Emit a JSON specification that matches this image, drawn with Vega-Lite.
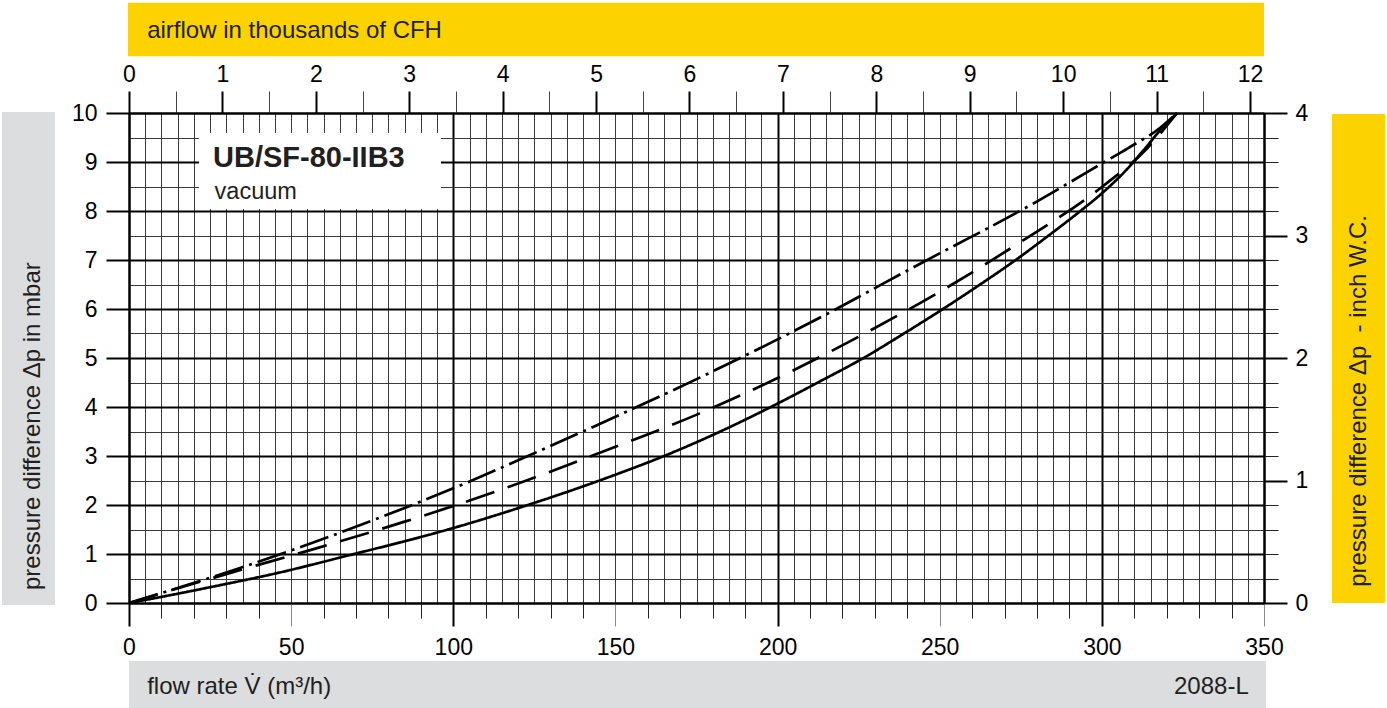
{
  "$schema": "https://vega.github.io/schema/vega-lite/v6.json",
  "width": 1135,
  "height": 490,
  "autosize": {"type": "none"},
  "padding": {"left": 129, "top": 113, "right": 123, "bottom": 105},
  "background": "white",
  "config": {
    "view": {"stroke": null},
    "axis": {"labelFont": "Liberation Sans", "labelFontSize": 23, "labelColor": "#000", "domainColor": "#000", "tickColor": "#000", "gridOpacity": 1, "labelFlush": false, "labelOverlap": false, "labelBound": false, "title": null},
    "text": {"font": "Liberation Sans", "color": "#231f20"}
  },
  "datasets": {
    "curves": [
      {"series": "A", "flow": 0, "dp": 0},
      {"series": "A", "flow": 10, "dp": 0.125},
      {"series": "A", "flow": 20, "dp": 0.255},
      {"series": "A", "flow": 30, "dp": 0.39},
      {"series": "A", "flow": 45, "dp": 0.6},
      {"series": "A", "flow": 70, "dp": 1.01},
      {"series": "A", "flow": 85, "dp": 1.26},
      {"series": "A", "flow": 100, "dp": 1.53},
      {"series": "A", "flow": 123, "dp": 2.0},
      {"series": "A", "flow": 148, "dp": 2.57},
      {"series": "A", "flow": 165, "dp": 3.0},
      {"series": "A", "flow": 183, "dp": 3.52},
      {"series": "A", "flow": 200, "dp": 4.07},
      {"series": "A", "flow": 213, "dp": 4.52},
      {"series": "A", "flow": 226.5, "dp": 5.0},
      {"series": "A", "flow": 238, "dp": 5.46},
      {"series": "A", "flow": 251, "dp": 6.0},
      {"series": "A", "flow": 262, "dp": 6.48},
      {"series": "A", "flow": 273, "dp": 6.98},
      {"series": "A", "flow": 283, "dp": 7.47},
      {"series": "A", "flow": 293, "dp": 7.98},
      {"series": "A", "flow": 300, "dp": 8.36},
      {"series": "A", "flow": 307, "dp": 8.8},
      {"series": "A", "flow": 313, "dp": 9.25},
      {"series": "A", "flow": 318, "dp": 9.65},
      {"series": "A", "flow": 323.2, "dp": 10.0},
      {"series": "B", "flow": 0, "dp": 0},
      {"series": "B", "flow": 10, "dp": 0.2},
      {"series": "B", "flow": 31, "dp": 0.61},
      {"series": "B", "flow": 58, "dp": 1.12},
      {"series": "B", "flow": 85, "dp": 1.66},
      {"series": "B", "flow": 100, "dp": 1.98},
      {"series": "B", "flow": 123, "dp": 2.51},
      {"series": "B", "flow": 145, "dp": 3.06},
      {"series": "B", "flow": 176, "dp": 3.87},
      {"series": "B", "flow": 200, "dp": 4.59},
      {"series": "B", "flow": 226, "dp": 5.47},
      {"series": "B", "flow": 251, "dp": 6.39},
      {"series": "B", "flow": 275, "dp": 7.37},
      {"series": "B", "flow": 300, "dp": 8.49},
      {"series": "B", "flow": 314, "dp": 9.28},
      {"series": "B", "flow": 323.2, "dp": 10.0},
      {"series": "C", "flow": 0, "dp": 0},
      {"series": "C", "flow": 34, "dp": 0.71},
      {"series": "C", "flow": 62, "dp": 1.36},
      {"series": "C", "flow": 85, "dp": 1.94},
      {"series": "C", "flow": 100, "dp": 2.34},
      {"series": "C", "flow": 123, "dp": 3.0},
      {"series": "C", "flow": 148, "dp": 3.74},
      {"series": "C", "flow": 176, "dp": 4.6},
      {"series": "C", "flow": 200, "dp": 5.38},
      {"series": "C", "flow": 217, "dp": 5.96},
      {"series": "C", "flow": 229, "dp": 6.39},
      {"series": "C", "flow": 241, "dp": 6.82},
      {"series": "C", "flow": 253, "dp": 7.24},
      {"series": "C", "flow": 266, "dp": 7.69},
      {"series": "C", "flow": 278, "dp": 8.12},
      {"series": "C", "flow": 290, "dp": 8.58},
      {"series": "C", "flow": 300, "dp": 8.97},
      {"series": "C", "flow": 308, "dp": 9.28},
      {"series": "C", "flow": 318, "dp": 9.7},
      {"series": "C", "flow": 323.2, "dp": 10.0}
    ]
  },
  "layer": [
    {
      "layer": [
        {
          "data": {"values": [{}]},
          "mark": {"type": "rule", "opacity": 0},
          "encoding": {
            "x": {"datum": 0, "type": "quantitative", "scale": {"domain": [0, 350], "nice": false, "zero": false},
              "axis": {"orient": "bottom", "grid": true, "ticks": false, "labels": false, "domain": false,
                "values": [0,5,10,15,20,25,30,35,40,45,50,55,60,65,70,75,80,85,90,95,100,105,110,115,120,125,130,135,140,145,150,155,160,165,170,175,180,185,190,195,200,205,210,215,220,225,230,235,240,245,250,255,260,265,270,275,280,285,290,295,300,305,310,315,320,325,330,335,340,345,350],
                "gridColor": {"condition": {"test": "datum.value % 100 === 0 || datum.value === 350", "value": "#000"}, "value": "#3a3a3a"},
                "gridWidth": {"condition": {"test": "datum.value % 100 === 0 || datum.value === 350", "value": 2}, "value": 1}}}
          }
        },
        {
          "data": {"values": [{}]},
          "mark": {"type": "rule", "opacity": 0},
          "encoding": {
            "y": {"datum": 0, "type": "quantitative", "scale": {"domain": [0, 10], "nice": false, "zero": false},
              "axis": {"orient": "left", "grid": true, "ticks": false, "labels": false, "domain": false,
                "values": [0,0.5,1,1.5,2,2.5,3,3.5,4,4.5,5,5.5,6,6.5,7,7.5,8,8.5,9,9.5,10],
                "gridColor": {"condition": {"test": "datum.value % 1 === 0", "value": "#000"}, "value": "#3a3a3a"},
                "gridWidth": {"condition": {"test": "datum.value % 1 === 0", "value": 2}, "value": 1}}}
          }
        },
        {
          "data": {"values": [{}]},
          "mark": {"type": "rule", "opacity": 0},
          "encoding": {
            "x": {"datum": 0, "type": "quantitative", "scale": {"domain": [0, 350], "nice": false, "zero": false},
              "axis": {"orient": "bottom", "grid": false, "labels": false, "domain": false, "tickSize": 15, "tickWidth": 1, "tickColor": "#222",
                "values": [10,20,30,40,60,70,80,90,110,120,130,140,160,170,180,190,210,220,230,240,260,270,280,290,310,320,330,340]}}
          }
        },
        {
          "data": {"values": [{}]},
          "mark": {"type": "rect", "color": "#fcd200"},
          "encoding": {
            "x": {"datum": -0.3, "type": "quantitative", "scale": {"domain": [0, 350], "nice": false, "zero": false}, "axis": null},
            "x2": {"datum": 350},
            "y": {"datum": 12.25, "type": "quantitative", "scale": {"domain": [0, 10], "nice": false, "zero": false}, "axis": null},
            "y2": {"datum": 11.16}
          }
        },
        {
          "data": {"values": [{}]},
          "mark": {"type": "rect", "color": "#dcdddf"},
          "encoding": {
            "x": {"datum": -39.16, "type": "quantitative", "scale": {"domain": [0, 350], "nice": false, "zero": false}, "axis": null},
            "x2": {"datum": -22.82},
            "y": {"datum": 10.02, "type": "quantitative", "scale": {"domain": [0, 10], "nice": false, "zero": false}, "axis": null},
            "y2": {"datum": -0.04}
          }
        },
        {
          "data": {"values": [{}]},
          "mark": {"type": "rect", "color": "#fcd200"},
          "encoding": {
            "x": {"datum": 370.96, "type": "quantitative", "scale": {"domain": [0, 350], "nice": false, "zero": false}, "axis": null},
            "x2": {"datum": 387.3},
            "y": {"datum": 9.98, "type": "quantitative", "scale": {"domain": [0, 10], "nice": false, "zero": false}, "axis": null},
            "y2": {"datum": 0}
          }
        },
        {
          "data": {"values": [{}]},
          "mark": {"type": "rect", "color": "#dcdddf"},
          "encoding": {
            "x": {"datum": 0, "type": "quantitative", "scale": {"domain": [0, 350], "nice": false, "zero": false}, "axis": null},
            "x2": {"datum": 350.6},
            "y": {"datum": -1.184, "type": "quantitative", "scale": {"domain": [0, 10], "nice": false, "zero": false}, "axis": null},
            "y2": {"datum": -2.3}
          }
        },
        {
          "data": {"values": [{}]},
          "mark": {"type": "rect", "color": "#ffffff"},
          "encoding": {
            "x": {"datum": 21.6, "type": "quantitative", "scale": {"domain": [0, 350], "nice": false, "zero": false}, "axis": null},
            "x2": {"datum": 96.2},
            "y": {"datum": 9.59, "type": "quantitative", "scale": {"domain": [0, 10], "nice": false, "zero": false}, "axis": null},
            "y2": {"datum": 8.04}
          }
        },
        {
          "data": {"values": [{"label": "airflow in thousands of CFH"}]},
          "mark": {"type": "text", "fontSize": 24, "align": "left", "baseline": "alphabetic"},
          "encoding": {
            "x": {"datum": 5.6, "type": "quantitative", "scale": {"domain": [0, 350], "nice": false, "zero": false}, "axis": null},
            "y": {"datum": 11.537, "type": "quantitative", "scale": {"domain": [0, 10], "nice": false, "zero": false}, "axis": null},
            "text": {"field": "label"}
          }
        },
        {
          "data": {"values": [{"label": "flow rate V̇ (m³/h)"}]},
          "mark": {"type": "text", "fontSize": 24, "align": "left", "baseline": "alphabetic"},
          "encoding": {
            "x": {"datum": 5.6, "type": "quantitative", "scale": {"domain": [0, 350], "nice": false, "zero": false}, "axis": null},
            "y": {"datum": -1.857, "type": "quantitative", "scale": {"domain": [0, 10], "nice": false, "zero": false}, "axis": null},
            "text": {"field": "label"}
          }
        },
        {
          "data": {"values": [{"label": "2088-L"}]},
          "mark": {"type": "text", "fontSize": 24, "align": "right", "baseline": "alphabetic"},
          "encoding": {
            "x": {"datum": 345.3, "type": "quantitative", "scale": {"domain": [0, 350], "nice": false, "zero": false}, "axis": null},
            "y": {"datum": -1.857, "type": "quantitative", "scale": {"domain": [0, 10], "nice": false, "zero": false}, "axis": null},
            "text": {"field": "label"}
          }
        },
        {
          "data": {"values": [{"label": "pressure difference Δp in mbar"}]},
          "mark": {"type": "text", "fontSize": 24, "align": "left", "baseline": "alphabetic", "angle": 270},
          "encoding": {
            "x": {"datum": -27.3, "type": "quantitative", "scale": {"domain": [0, 350], "nice": false, "zero": false}, "axis": null},
            "y": {"datum": 0.265, "type": "quantitative", "scale": {"domain": [0, 10], "nice": false, "zero": false}, "axis": null},
            "text": {"field": "label"}
          }
        },
        {
          "data": {"values": [{"label": "pressure difference Δp\u00a0 - inch W.C."}]},
          "mark": {"type": "text", "fontSize": 24, "align": "left", "baseline": "alphabetic", "angle": 270},
          "encoding": {
            "x": {"datum": 381.4, "type": "quantitative", "scale": {"domain": [0, 350], "nice": false, "zero": false}, "axis": null},
            "y": {"datum": 0.33, "type": "quantitative", "scale": {"domain": [0, 10], "nice": false, "zero": false}, "axis": null},
            "text": {"field": "label"}
          }
        },
        {
          "data": {"values": [{"label": "UB/SF-80-IIB3"}]},
          "mark": {"type": "text", "fontSize": 29, "fontWeight": "bold", "align": "left", "baseline": "alphabetic"},
          "encoding": {
            "x": {"datum": 25.9, "type": "quantitative", "scale": {"domain": [0, 350], "nice": false, "zero": false}, "axis": null},
            "y": {"datum": 8.904, "type": "quantitative", "scale": {"domain": [0, 10], "nice": false, "zero": false}, "axis": null},
            "text": {"field": "label"}
          }
        },
        {
          "data": {"values": [{"label": "vacuum"}]},
          "mark": {"type": "text", "fontSize": 23.5, "align": "left", "baseline": "alphabetic"},
          "encoding": {
            "x": {"datum": 26.4, "type": "quantitative", "scale": {"domain": [0, 350], "nice": false, "zero": false}, "axis": null},
            "y": {"datum": 8.245, "type": "quantitative", "scale": {"domain": [0, 10], "nice": false, "zero": false}, "axis": null},
            "text": {"field": "label"}
          }
        },
        {
          "data": {"name": "curves"},
          "mark": {"type": "line", "interpolate": "monotone", "strokeWidth": 2.7, "strokeCap": "butt", "color": "#000"},
          "encoding": {
            "x": {"field": "flow", "type": "quantitative", "scale": {"domain": [0, 350], "nice": false, "zero": false},
              "axis": {"orient": "bottom", "values": [0,50,100,150,200,250,300,350], "grid": false, "domain": true, "domainWidth": 2,
                "tickSize": 23, "labelPadding": 10,
                "tickColor": {"condition": {"test": "datum.value % 100 === 50", "value": "#8c8c8c"}, "value": "#000"},
                "tickWidth": {"condition": {"test": "datum.value % 100 === 50", "value": 1}, "value": 2}}},
            "y": {"field": "dp", "type": "quantitative", "scale": {"domain": [0, 10], "nice": false, "zero": false},
              "axis": {"orient": "left", "values": [0,1,2,3,4,5,6,7,8,9,10], "grid": false, "domain": true, "domainWidth": 2,
                "tickSize": 23, "tickWidth": 2, "labelPadding": 9}},
            "strokeDash": {"field": "series", "type": "nominal", "scale": {"domain": ["A", "B", "C"], "range": [[1, 0], [30, 14], [30, 6, 3, 6]]}, "legend": null}
          }
        }
      ],
      "resolve": {"axis": {"x": "independent", "y": "independent"}}
    },
    {
      "data": {"values": [{}]},
      "mark": {"type": "rule", "opacity": 0},
      "encoding": {
        "x": {"datum": 0, "type": "quantitative", "scale": {"domain": [0, 12.15], "nice": false, "zero": false},
          "axis": {"orient": "top", "values": [0,0.5,1,1.5,2,2.5,3,3.5,4,4.5,5,5.5,6,6.5,7,7.5,8,8.5,9,9.5,10,10.5,11,11.5,12],
            "grid": false, "domain": true, "domainWidth": 2, "tickSize": 22, "labelPadding": 5,
            "tickWidth": {"condition": {"test": "datum.value % 1 === 0", "value": 2}, "value": 1},
            "tickColor": {"condition": {"test": "datum.value % 1 === 0", "value": "#000"}, "value": "#444"},
            "labelExpr": "datum.value % 1 === 0 ? format(datum.value, 'd') : ''"}}
      }
    },
    {
      "data": {"values": [{}]},
      "mark": {"type": "rule", "opacity": 0},
      "encoding": {
        "y": {"datum": 0, "type": "quantitative", "scale": {"domain": [0, 4], "nice": false, "zero": false},
          "axis": {"orient": "right", "values": [0.2,0.4,0.6,0.8,1.2,1.4,1.6,1.8,2.2,2.4,2.6,2.8,3.2,3.4,3.6,3.8],
            "grid": false, "domain": false, "labels": false, "tickSize": 14, "tickWidth": 1, "tickColor": "#222"}}
      }
    },
    {
      "data": {"values": [{}]},
      "mark": {"type": "rule", "opacity": 0},
      "encoding": {
        "y": {"datum": 0, "type": "quantitative", "scale": {"domain": [0, 4], "nice": false, "zero": false},
          "axis": {"orient": "right", "values": [0,1,2,3,4], "grid": false, "domain": true, "domainWidth": 2,
            "tickSize": 23, "tickWidth": 2, "labelPadding": 8}}
      }
    }
  ],
  "resolve": {"scale": {"x": "independent", "y": "independent"}, "axis": {"x": "independent", "y": "independent"}}
}
